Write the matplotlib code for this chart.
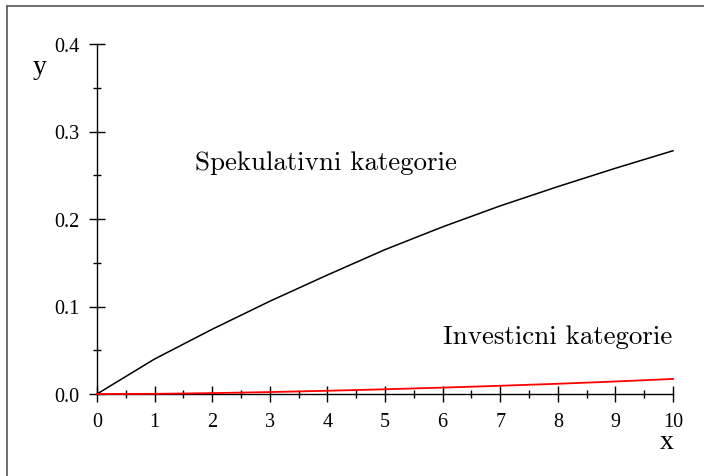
import matplotlib
matplotlib.use("Agg")
import matplotlib.pyplot as plt
from matplotlib.lines import Line2D
from matplotlib.ticker import MultipleLocator, FormatStrFormatter

# values at integer x
x = [0, 1, 2, 3, 4, 5, 6, 7, 8, 9, 10]
y_spek = [0.0, 0.040, 0.074, 0.106, 0.136, 0.165, 0.191, 0.215, 0.237, 0.258, 0.278]
y_inv = [0.0, 0.0002, 0.0010, 0.0022, 0.0037, 0.0054, 0.0073, 0.0094, 0.0117, 0.0143, 0.0172]

label_spek = "Spekulativni kategorie"
label_inv = "Investicni kategorie"

plt.rcParams["font.family"] = ["Liberation Serif", "DejaVu Serif"]

W, H = 704, 477
fig = plt.figure(figsize=(W / 100, H / 100), dpi=100)
ax = fig.add_axes([97 / W, 1 - 395 / H, 576 / W, 350 / H])

ax.plot(x, y_spek, color="black", lw=1.1, clip_on=False, zorder=3)
ax.plot(x, y_inv, color="red", lw=1.3, clip_on=False, zorder=4)

ax.set_xlim(0, 10)
ax.set_ylim(0, 0.4)
for s in ("top", "right"):
    ax.spines[s].set_visible(False)
for s in ("left", "bottom"):
    ax.spines[s].set_linewidth(1.0)

ax.xaxis.set_major_locator(MultipleLocator(1))
ax.xaxis.set_minor_locator(MultipleLocator(0.5))
ax.yaxis.set_major_locator(MultipleLocator(0.1))
ax.yaxis.set_minor_locator(MultipleLocator(0.05))
ax.yaxis.set_major_formatter(FormatStrFormatter("%.1f"))
ax.tick_params(which="major", direction="inout", length=11, width=1.0)
ax.tick_params(which="minor", direction="inout", length=6, width=1.0)
ax.tick_params(axis="x", which="major", labelsize=14.5, pad=7.5)
ax.tick_params(axis="y", which="major", labelsize=14.5, pad=7)

fig.text(667 / W, 1 - 443 / H, "x", fontsize=20, ha="center", va="center")
fig.text(40 / W, 1 - 67 / H, "y", fontsize=20, ha="center", va="center")

ax.text(3.976, 0.2576, label_spek, fontsize=19.4, family="cmr10",
        ha="center", va="baseline")
ax.text(7.995, 0.0581, label_inv, fontsize=19.4, family="cmr10",
        ha="center", va="baseline")

# outer frame (top and left edges only are visible in the reference)
fig.add_artist(Line2D([7 / W, 1], [1 - 7 / H, 1 - 7 / H], color="#555555", lw=1.2))
fig.add_artist(Line2D([7 / W, 7 / W], [0, 1 - 7 / H], color="#555555", lw=1.2))

fig.savefig("out.png", dpi=100)
